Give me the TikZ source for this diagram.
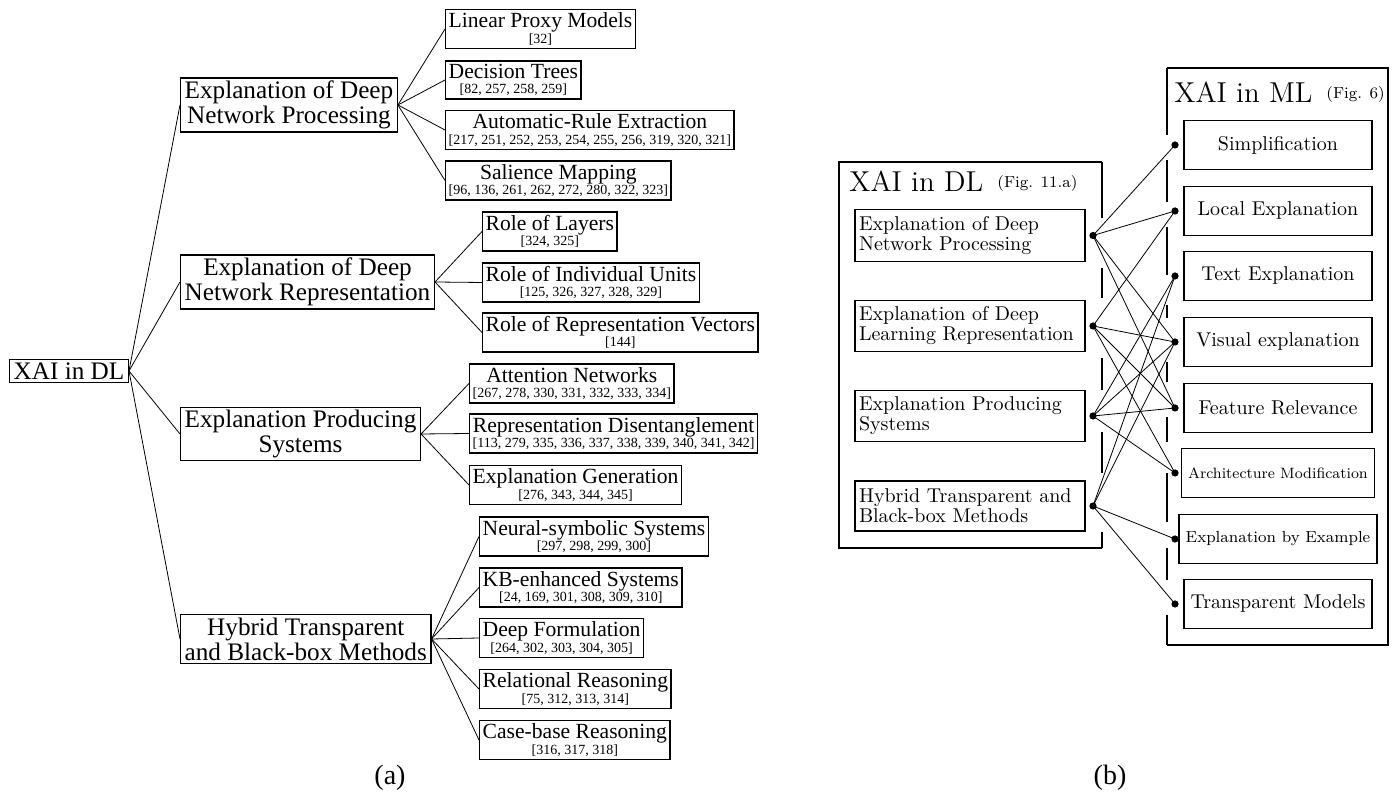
\documentclass[tikz,border=0pt]{standalone}
\usepackage{fontspec}
\newfontfamily\timesfont{Liberation Serif}
\usetikzlibrary{positioning}
\newcommand{\refnums}[1]{{\fontsize{7}{7}\selectfont[#1]}}

\begin{document}
\begin{tikzpicture}[x=0.5pt, y=-0.5pt,
  topic/.style={draw, line width=0.7pt, align=center, inner xsep=2pt, inner ysep=1.5pt, anchor=west, font=\timesfont\fontsize{12.6}{11}\selectfont},
  leaf/.style={draw, line width=0.7pt, align=center, inner xsep=1.5pt, inner ysep=1.5pt, anchor=west, font=\timesfont\fontsize{10.8}{7.8}\selectfont},
  link/.style={line width=0.4pt},
  dlbox/.style={draw, line width=0.6pt, text width=111pt, inner xsep=2pt, minimum height=25pt, align=left, font=\fontsize{10}{10}\selectfont},
  mlbox/.style={draw, line width=0.6pt, minimum width=94pt, minimum height=24.5pt},
  dot/.style={circle, fill, inner sep=0pt, minimum size=3.6pt},
  frame/.style={line width=1pt}]

\useasboundingbox (0,0) rectangle (1394,795);

% (a) the tree
\node[topic] (xai) at (9,371) {XAI in DL};

\node[topic] (dnp) at (180,105) {Explanation of Deep\\Network Processing};
\node[topic] (dnr) at (180,282) {Explanation of Deep\\Network Representation};
\node[topic] (eps) at (180,434) {Explanation Producing\\Systems};
\node[topic] (htb) at (180,639) {Hybrid Transparent\\and Black-box Methods};

\node[leaf] (lpm) at (445,29) {Linear Proxy Models\\\refnums{32}};
\node[leaf] (dtr) at (445,80) {Decision Trees\\\refnums{82, 257, 258, 259}};
\node[leaf] (are) at (445,130) {Automatic-Rule Extraction\\\refnums{217, 251, 252, 253, 254, 255, 256, 319, 320, 321}};
\node[leaf] (slm) at (445,180.5) {Salience Mapping\\\refnums{96, 136, 261, 262, 272, 280, 322, 323}};

\node[leaf] (rol) at (482,231.5) {Role of Layers\\\refnums{324, 325}};
\node[leaf] (riu) at (482,282.5) {Role of Individual Units\\\refnums{125, 326, 327, 328, 329}};
\node[leaf] (rrv) at (482,332.5) {Role of Representation Vectors\\\refnums{144}};

\node[leaf] (atn) at (469,383.5) {Attention Networks\\\refnums{267, 278, 330, 331, 332, 333, 334}};
\node[leaf] (rdi) at (469,433.5) {Representation Disentanglement\\\refnums{113, 279, 335, 336, 337, 338, 339, 340, 341, 342}};
\node[leaf] (exg) at (469,485) {Explanation Generation\\\refnums{276, 343, 344, 345}};

\node[leaf] (nss) at (479,536.5) {Neural-symbolic Systems\\\refnums{297, 298, 299, 300}};
\node[leaf] (kbs) at (479,587.5) {KB-enhanced Systems\\\refnums{24, 169, 301, 308, 309, 310}};
\node[leaf] (dfo) at (479,638) {Deep Formulation\\\refnums{264, 302, 303, 304, 305}};
\node[leaf] (rre) at (479,689) {Relational Reasoning\\\refnums{75, 312, 313, 314}};
\node[leaf] (cbr) at (479,740) {Case-base Reasoning\\\refnums{316, 317, 318}};

\foreach \c in {dnp,dnr,eps,htb} \draw[link] (xai.east) -- (\c.west);
\foreach \c in {lpm,dtr,are,slm} \draw[link] (dnp.east) -- (\c.west);
\foreach \c in {rol,riu,rrv} \draw[link] (dnr.east) -- (\c.west);
\foreach \c in {atn,rdi,exg} \draw[link] (eps.east) -- (\c.west);
\foreach \c in {nss,kbs,dfo,rre,cbr} \draw[link] (htb.east) -- (\c.west);

\node[font=\timesfont\fontsize{14}{16}\selectfont] (capa) at (390,778) {(a)};

% (b) XAI in DL vs XAI in ML
\draw[frame] (1102,162) -- (839,162) -- (839,548) -- (1102,548);
\foreach \ya/\yb in {162/218, 268/298, 358/390, 432/473, 532/548}
  \draw[frame] (1102,\ya) -- (1102,\yb);
\node[anchor=base west, inner sep=0pt, font=\fontsize{14.4}{16}\selectfont] (dltitle) at (849,192) {XAI in DL};
\node[anchor=base west, inner sep=0pt, font=\fontsize{8}{10}\selectfont] (dlfig) at (997,188) {(Fig. 11.a)};

\node[dlbox] (b1) at (970,235.5) {Explanation of Deep\\Network Processing};
\node[dlbox] (b2) at (970,326) {Explanation of Deep\\Learning Representation};
\node[dlbox] (b3) at (970,416) {Explanation Producing\\Systems};
\node[dlbox] (b4) at (970,506) {Hybrid Transparent and\\Black-box Methods};

\draw[frame] (1167,68) -- (1388,68) -- (1388,645) -- (1167,645);
\foreach \ya/\yb in {68/135, 160/202, 227/275, 305/318, 362/382, 417/442, 473/522, 548/580, 615/645}
  \draw[frame] (1167,\ya) -- (1167,\yb);
\node[anchor=base west, inner sep=0pt, font=\fontsize{14.4}{16}\selectfont] (mltitle) at (1174,103) {XAI in ML};
\node[anchor=base west, inner sep=0pt, font=\fontsize{8}{10}\selectfont] (mlfig) at (1326,99) {(Fig. 6)};

\node[mlbox] (c1) at (1278,145) {Simplification};
\node[mlbox] (c2) at (1278,211) {Local Explanation};
\node[mlbox] (c3) at (1278,276) {Text Explanation};
\node[mlbox] (c4) at (1278,342) {Visual explanation};
\node[mlbox] (c5) at (1278,408) {Feature Relevance};
\node[mlbox, font=\fontsize{7.5}{9}\selectfont] (c6) at (1278,473) {Architecture Modification};
\node[mlbox, font=\fontsize{8}{10}\selectfont] (c7) at (1278,539) {Explanation by Example};
\node[mlbox] (c8) at (1278,604) {Transparent Models};

\foreach \i/\y in {1/235.5, 2/326, 3/416, 4/506}
  \node[dot] (d\i) at (1093,\y) {};
\foreach \i/\y in {1/145, 2/211, 3/276, 4/342, 5/408, 6/473, 7/539, 8/604}
  \node[dot] (m\i) at (1175,\y) {};

\foreach \a/\b in {d1/m1, d1/m2, d1/m4, d1/m5,
                   d2/m2, d2/m4, d2/m5, d2/m6,
                   d3/m3, d3/m4, d3/m5, d3/m6,
                   d4/m3, d4/m4, d4/m7, d4/m8}
  \draw[link] (\a.center) -- (\b.center);

\node[font=\timesfont\fontsize{14}{16}\selectfont] (capb) at (1110,778) {(b)};
\end{tikzpicture}
\end{document}
